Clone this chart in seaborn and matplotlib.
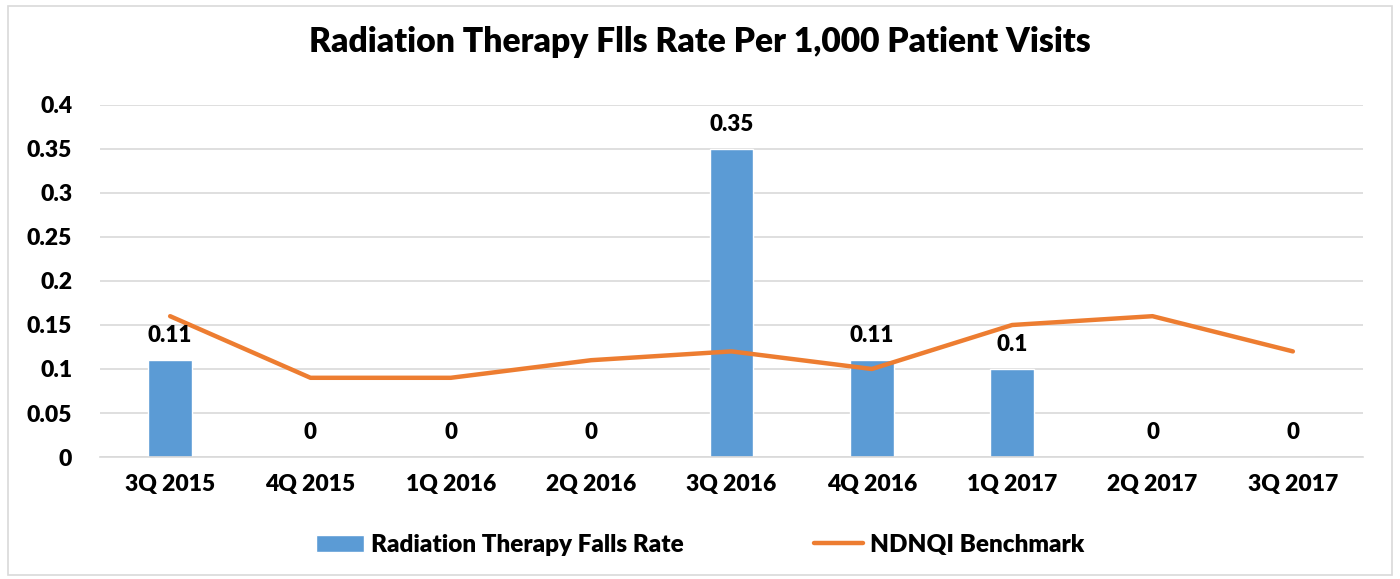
import numpy as np
import matplotlib.pyplot as plt
import matplotlib.patches as mpatches
import seaborn as sns

# chart data
quarters = ['3Q 2015', '4Q 2015', '1Q 2016', '2Q 2016', '3Q 2016',
            '4Q 2016', '1Q 2017', '2Q 2017', '3Q 2017']
falls_rate = [0.11, 0, 0, 0, 0.35, 0.11, 0.1, 0, 0]
benchmark = [0.16, 0.09, 0.09, 0.11, 0.12, 0.10, 0.15, 0.16, 0.12]

sns.set_theme(style='white')
plt.rcParams['font.family'] = ['Lato', 'DejaVu Sans']
plt.rcParams['font.weight'] = 'heavy'
plt.rcParams['text.color'] = 'black'

fig = plt.figure(figsize=(14, 5.79), dpi=100)
ax = fig.add_axes([0.0714, 0.2107, 0.9022, 0.608])

# outer chart border
fig.patches.append(mpatches.Rectangle((0.006, 0.007), 0.988, 0.983, transform=fig.transFigure,
                                      fill=False, edgecolor='#D9D9D9', linewidth=1.2))

sns.barplot(x=quarters, y=falls_rate, color='#5B9BD5', width=0.31, ax=ax,
            label='Radiation Therapy Falls Rate', saturation=1)
sns.lineplot(x=np.arange(len(quarters)), y=benchmark, color='#ED7D31', linewidth=3.2,
             ax=ax, label='NDNQI Benchmark')

labels = [('%g' % v) for v in falls_rate]
ax.bar_label(ax.containers[0], labels=labels, padding=10, fontsize=16, fontweight='heavy',
             color='black')

ax.set_ylim(0, 0.4)
ax.set_xlim(-0.5, len(quarters) - 0.5)
ax.set_yticks(np.arange(0, 0.401, 0.05))
ax.set_yticklabels(['0', '0.05', '0.1', '0.15', '0.2', '0.25', '0.3', '0.35', '0.4'])
ax.yaxis.grid(True, color='#D9D9D9', linewidth=1.2)
ax.set_axisbelow(True)
for s in ['top', 'right', 'left']:
    ax.spines[s].set_visible(False)
ax.spines['bottom'].set_color('#D9D9D9')
ax.spines['bottom'].set_linewidth(1.2)
ax.tick_params(axis='both', length=0, labelsize=16.5, colors='black')
ax.tick_params(axis='x', pad=12)
ax.tick_params(axis='y', pad=20)
for t in ax.get_xticklabels() + ax.get_yticklabels():
    t.set_fontweight('heavy')
ax.set_xlabel('')
ax.set_ylabel('')

fig.suptitle('Radiation Therapy Flls Rate Per 1,000 Patient Visits', y=0.955,
             fontsize=24.2, fontweight='heavy', x=0.5, color='black')

handles, lbls = ax.get_legend_handles_labels()
ax.get_legend().remove()
order = [lbls.index('Radiation Therapy Falls Rate'), lbls.index('NDNQI Benchmark')]
fig.legend([handles[i] for i in order], [lbls[i] for i in order], loc='center',
           bbox_to_anchor=(0.5, 0.059), ncol=2, frameon=False, columnspacing=5.35,
           handlelength=2.0, handletextpad=0.3, prop={'weight': 'heavy', 'size': 17.5})

fig.savefig('out.png', dpi=100)
